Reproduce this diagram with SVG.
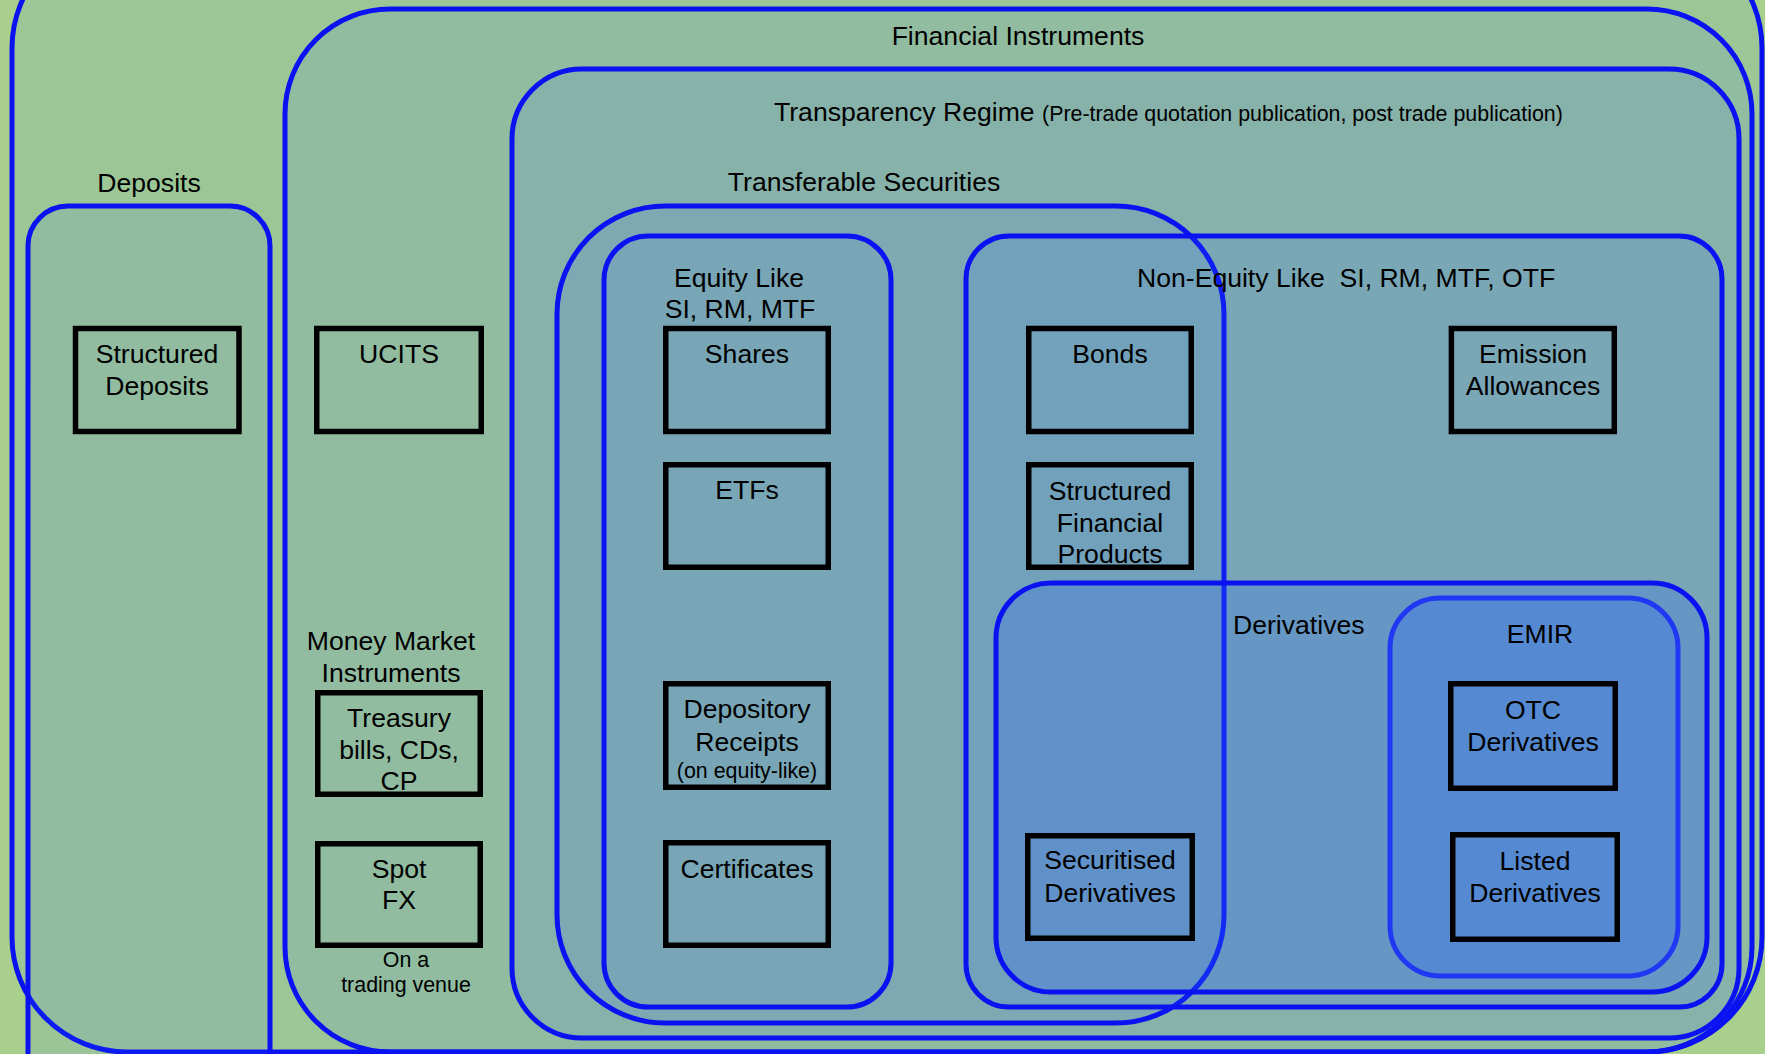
<svg xmlns="http://www.w3.org/2000/svg" width="1765" height="1054" viewBox="0 0 1765 1054">
<style>
.c{stroke:#0a12f2;stroke-width:5;fill:#3068ff}
.d{fill:#1a5cff}
.b{fill:none;stroke:#000;stroke-width:5.5}
text{font-family:'Liberation Sans',Arial,sans-serif;font-size:26.6px;fill:#000;text-anchor:middle}
.s{font-size:21.4px}
.l{text-anchor:start}
</style>
<rect x="0" y="0" width="1765" height="1054" fill="#a8d08c"/>
<g id="outer-frame"><rect class="c" x="12" y="-67" width="1750" height="1119" rx="115" fill-opacity="0.09"/></g>
<g id="deposits">
<rect class="c" x="28" y="206" width="242" height="900" rx="40" fill-opacity="0.1"/>
<text x="149" y="192">Deposits</text>
</g>
<g id="financial-instruments">
<rect class="c" x="285" y="9" width="1467" height="1043" rx="105" fill-opacity="0.1"/>
<text x="1018" y="45">Financial Instruments</text>
</g>
<g id="transparency-regime">
<rect class="c" x="512" y="69" width="1227" height="969" rx="70" fill-opacity="0.11"/>
<text class="l" x="774" y="121">Transparency Regime <tspan class="s">(Pre-trade quotation publication, post trade publication)</tspan></text>
</g>
<g id="transferable-securities">
<rect class="c" x="557" y="206" width="667" height="817" rx="108" fill-opacity="0.1"/>
<text x="864" y="191">Transferable Securities</text>
</g>
<g id="equity-like">
<rect class="c" x="604" y="236" width="287" height="771" rx="44" fill-opacity="0.06"/>
<text x="739" y="287">Equity Like</text>
<text x="740" y="318">SI, RM, MTF</text>
</g>
<g id="non-equity-like">
<rect class="c" x="966" y="236" width="756" height="771" rx="43" fill-opacity="0.14"/>
<text class="l" x="1137" y="287" xml:space="preserve">Non-Equity Like  SI, RM, MTF, OTF</text>
</g>
<g id="derivatives">
<rect class="c d" x="996" y="583" width="711" height="409" rx="55" fill-opacity="0.2"/>
<text class="l" x="1233" y="634">Derivatives</text>
</g>
<g id="emir">
<rect class="c d" x="1390" y="598" width="288" height="378" rx="50" fill-opacity="0.22" style="stroke:#2038f4"/>
<text x="1540" y="643">EMIR</text>
</g>
<g id="money-market-instruments">
<text x="391" y="650">Money Market</text>
<text x="391" y="682">Instruments</text>
</g>
<g id="structured-deposits">
<rect class="b" x="75.5" y="328.5" width="163.5" height="103"/>
<text x="157" y="363">Structured</text>
<text x="157" y="395">Deposits</text>
</g>
<g id="ucits">
<rect class="b" x="316.75" y="328.5" width="164.5" height="103"/>
<text x="399" y="363">UCITS</text>
</g>
<g id="treasury-bills">
<rect class="b" x="317.75" y="692.75" width="162.5" height="101.5"/>
<text x="399" y="727">Treasury</text>
<text x="399" y="759">bills, CDs,</text>
<text x="399" y="790">CP</text>
</g>
<g id="spot-fx">
<rect class="b" x="317.75" y="843.75" width="162.5" height="101.5"/>
<text x="399" y="878">Spot</text>
<text x="399" y="909">FX</text>
<text class="s" x="406" y="967">On a</text>
<text class="s" x="406" y="992">trading venue</text>
</g>
<g id="shares">
<rect class="b" x="665.75" y="328.5" width="162.5" height="103"/>
<text x="747" y="363">Shares</text>
</g>
<g id="etfs">
<rect class="b" x="665.75" y="464.75" width="162.5" height="102.5"/>
<text x="747" y="499">ETFs</text>
</g>
<g id="depository-receipts">
<rect class="b" x="665.75" y="683.75" width="162.5" height="103.5"/>
<text x="747" y="718">Depository</text>
<text x="747" y="751">Receipts</text>
<text class="s" x="747" y="778">(on equity-like)</text>
</g>
<g id="certificates">
<rect class="b" x="665.75" y="842.75" width="162.5" height="102.5"/>
<text x="747" y="878">Certificates</text>
</g>
<g id="bonds">
<rect class="b" x="1028.75" y="328.5" width="162.5" height="103"/>
<text x="1110" y="363">Bonds</text>
</g>
<g id="structured-financial-products">
<rect class="b" x="1028.75" y="464.75" width="162.5" height="102.5"/>
<text x="1110" y="500">Structured</text>
<text x="1110" y="532">Financial</text>
<text x="1110" y="563">Products</text>
</g>
<g id="emission-allowances">
<rect class="b" x="1451.4" y="328.5" width="162.9" height="103"/>
<text x="1533" y="363">Emission</text>
<text x="1533" y="395">Allowances</text>
</g>
<g id="securitised-derivatives">
<rect class="b" x="1027.75" y="835.75" width="164.5" height="102.5"/>
<text x="1110" y="869">Securitised</text>
<text x="1110" y="902">Derivatives</text>
</g>
<g id="otc-derivatives">
<rect class="b" x="1450.75" y="683.75" width="164.5" height="104.5"/>
<text x="1533" y="719">OTC</text>
<text x="1533" y="751">Derivatives</text>
</g>
<g id="listed-derivatives">
<rect class="b" x="1452.75" y="834.75" width="164.5" height="104.5"/>
<text x="1535" y="870">Listed</text>
<text x="1535" y="902">Derivatives</text>
</g>
<g id="connectors"/>
</svg>
